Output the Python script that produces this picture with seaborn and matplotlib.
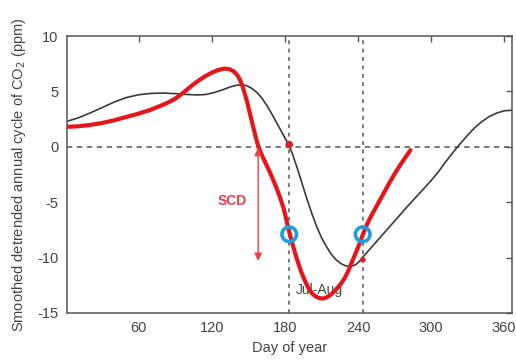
import matplotlib
matplotlib.use("Agg")
import matplotlib.pyplot as plt
import seaborn as sns
import pandas as pd

# ---- data ----
black_day = [1, 10, 20, 30, 40, 50, 60, 70, 80, 90, 100, 108, 115, 122, 129, 135, 140, 145,
             149, 153, 157, 161, 165, 169, 173, 177, 180, 183, 186, 190, 194, 198, 202, 206,
             210, 214, 218, 222, 226, 230, 234, 238, 241, 244, 248, 254, 260, 270, 280, 290,
             300, 306, 312, 318, 324, 330, 336, 342, 348, 354, 360, 366]
black_val = [2.3, 2.6, 3.05, 3.55, 4.05, 4.45, 4.7, 4.82, 4.85, 4.8, 4.72, 4.68, 4.72, 4.9, 5.15, 5.4, 5.55, 5.6,
             5.5, 5.25, 4.9, 4.4, 3.75, 3.0, 2.2, 1.4, 0.8, 0.2, -0.6, -1.9, -3.3, -4.7, -6.0, -7.2,
             -8.2, -9.0, -9.7, -10.2, -10.55, -10.75, -10.8, -10.65, -10.35, -9.95, -9.45, -8.7, -7.95, -6.7, -5.45, -4.25,
             -3.05, -2.25, -1.35, -0.5, 0.3, 1.05, 1.75, 2.3, 2.75, 3.05, 3.25, 3.3]

red_day = [1, 10, 20, 30, 40, 50, 60, 70, 80, 85, 90, 95, 100, 105, 110, 115, 120, 125, 129,
           132, 135, 138, 141, 143, 145, 147, 149, 151, 153, 155, 157, 159, 161, 164, 167, 170,
           173, 176, 179, 182, 184, 187, 190, 193, 196, 199, 202, 205, 208, 211, 214, 217, 220,
           223, 226, 229, 232, 235, 238, 241, 244, 247, 250, 254, 258, 262, 266, 270, 274, 278, 283]
red_val = [1.8, 1.85, 1.97, 2.15, 2.4, 2.7, 3.0, 3.35, 3.8, 4.05, 4.35, 4.75, 5.2, 5.65, 6.05, 6.4, 6.7, 6.92, 7.03,
           7.05, 6.98, 6.8, 6.45, 6.05, 5.5, 4.8, 4.0, 3.1, 2.2, 1.3, 0.45, -0.2, -0.75, -1.45, -2.15, -2.9,
           -3.7, -4.6, -5.6, -7.0, -7.9, -9.1, -10.2, -11.2, -12.0, -12.7, -13.2, -13.5, -13.65, -13.7, -13.6, -13.4, -13.1,
           -12.75, -12.35, -11.85, -11.2, -10.4, -9.6, -8.8, -7.9, -7.1, -6.4, -5.6, -4.8, -4.0, -3.2, -2.45, -1.75, -1.1, -0.3]

circle_day = [183.5, 243.8]
circle_val = [-7.9, -7.9]
dot_day = [183.5, 244.0]
dot_val = [0.2, -10.2]
vline_days = [183.5, 243.8]
scd_day = 158
scd_top, scd_bottom = -0.1, -10.3

x_ticks = [60, 120, 180, 240, 300, 360]
y_ticks = [-15, -10, -5, 0, 5, 10]

black_df = pd.DataFrame({"day": black_day, "val": black_val})
red_df = pd.DataFrame({"day": red_day, "val": red_val})

sns.set_style("white")
plt.rcParams["font.family"] = ["Liberation Sans", "DejaVu Sans"]
plt.rcParams["axes.unicode_minus"] = False

fig = plt.figure(figsize=(5.16, 3.6), dpi=100)
ax = fig.add_axes([0.1298, 0.1306, 0.8615, 0.7694])

# reference lines
ax.axhline(0, color="#555555", lw=1.1, ls=(0, (3.5, 3)), zorder=1)
for d in vline_days:
    ax.axvline(d, color="#555555", lw=1.1, ls=(0, (2.5, 3)), zorder=1)

sns.lineplot(data=black_df, x="day", y="val", ax=ax, color="#3a3a3a", lw=1.2, zorder=2)
sns.lineplot(data=red_df, x="day", y="val", ax=ax, color="#e8141c", lw=3.0, zorder=3)
for ln in ax.lines:
    ln.set_solid_joinstyle("round")
    ln.set_solid_capstyle("round")

ax.scatter(dot_day, dot_val, s=[30, 16], color="#d8202a", zorder=4, edgecolor="none")
ax.scatter(circle_day, circle_val, s=110, facecolor="none", edgecolor="#1aa0dc",
           linewidth=2.6, zorder=5)

# SCD arrow
ax.annotate("", xy=(scd_day, scd_bottom), xytext=(scd_day, scd_top),
            arrowprops=dict(arrowstyle="<|-|>", color="#e8404a", lw=1.0,
                            mutation_scale=11, shrinkA=0, shrinkB=0), zorder=4)
ax.text(136.5, -4.9, "SCD", color="#e2404d", fontsize=10, ha="center", va="center",
        fontweight="bold")
ax.text(188.5, -12.9, "Jul-Aug", color="#444444", fontsize=10, ha="left", va="center",
        zorder=2.5)

ax.set_xlim(1, 366)
ax.set_ylim(-15, 10)
ax.set_xticks(x_ticks)
ax.set_yticks(y_ticks)
ax.tick_params(direction="in", length=4, width=1, colors="#555555", labelcolor="#444444",
               labelsize=10.5, top=True, right=True, pad=6)
for s in ax.spines.values():
    s.set_color("#555555")
    s.set_linewidth(1.1)
    s.set_visible(True)

ax.set_xlabel("Day of year", fontsize=10.5, color="#444444", labelpad=4)
ax.set_ylabel("Smoothed detrended annual cycle of CO$_2$ (ppm)", fontsize=10.5,
              color="#444444", labelpad=7)

fig.savefig("out.png", dpi=100)
